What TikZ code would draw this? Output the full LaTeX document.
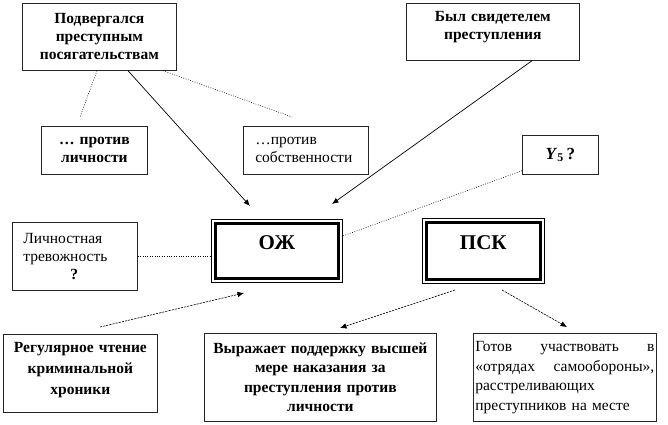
\documentclass[tikz,border=0pt]{standalone}
\usepackage{fontspec}
\setmainfont{Liberation Serif}
\usetikzlibrary{arrows.meta}
\begin{document}
\begin{tikzpicture}[x=1pt,y=-1pt,
  box/.style={draw=black!85, line width=0.7pt, inner sep=0pt, anchor=north west,
    font=\fontsize{15.5}{18}\selectfont},
  boldbox/.style={box, font=\fontsize{15.5}{18}\selectfont\bfseries, align=center},
  bigbox/.style={draw, line width=0.7pt, inner sep=0pt, anchor=north west,
    font=\fontsize{21}{24}\selectfont\bfseries},
  dotl/.style={line width=0.6pt, dash pattern=on 0.8pt off 1.6pt},
  dashl/.style={line width=0.6pt, dash pattern=on 2.2pt off 1pt},
  tip/.style={-{Latex[length=6.5pt,width=5.5pt]}},
  solidl/.style={line width=0.7pt}
]
\useasboundingbox (0,0) rectangle (668,424);

% top boxes
\node[boldbox, minimum width=154pt, minimum height=67pt, text width=150pt] (pod) at (22,3)
  {Подвергался\\преступным\\посягательствам};
\node[boldbox, minimum width=173pt, minimum height=57pt, text width=165pt] (svid) at (406,3)
  {\raisebox{5pt}[\height][\depth]{\begin{tabular}{@{}c@{}}Был свидетелем\\[0pt]преступления\end{tabular}}};
\node[boldbox, minimum width=106pt, minimum height=48pt, text width=100pt] (lich) at (41,126)
  {… против\\личности};
\node[box, minimum width=125pt, minimum height=48pt, text width=101pt, align=left] (sobst) at (243,126)
  {…против\\собственности};
\node[boldbox, minimum width=76pt, minimum height=39pt, text width=70pt,
  font=\fontsize{17}{18}\selectfont\bfseries] (yfive) at (522,135)
  {\textit{Y}\textsubscript{5}\,?};

% middle
\node[box, minimum width=125pt, minimum height=68pt, text width=103pt, align=left] (trev) at (12,222)
  {Личностная\\тревожность\\\hspace*{47pt}\textbf{?}};
\node[bigbox, minimum width=131pt, minimum height=63pt] (ozh) at (211,219)
  {\raisebox{8pt}[\height][\depth]{ОЖ}};
\node[bigbox, minimum width=122pt, minimum height=65pt] (psk) at (422,218)
  {\raisebox{8pt}[\height][\depth]{ПСК}};
\draw[line width=3pt] ([shift={(4pt,-4pt)}]ozh.north west) rectangle ([shift={(-4pt,4pt)}]ozh.south east);
\draw[line width=3pt] ([shift={(4pt,-4pt)}]psk.north west) rectangle ([shift={(-4pt,4pt)}]psk.south east);

% bottom boxes
\node[boldbox, minimum width=154pt, minimum height=78pt, text width=148pt,
  font=\fontsize{15.5}{21}\selectfont\bfseries] (reg) at (3,334)
  {\raisebox{3pt}[\height][\depth]{Регулярное чтение}\\\raisebox{3pt}[\height][\depth]{криминальной}\\\raisebox{3pt}[\height][\depth]{хроники}};
\node[boldbox, minimum width=232pt, minimum height=88pt, text width=225pt,
  font=\fontsize{15.5}{19.5}\selectfont\bfseries] (vyr) at (204,333)
  {Выражает поддержку высшей\\мере наказания за\\преступления против\\личности};
\node[box, minimum width=183pt, minimum height=88pt, text width=179pt, align=left,
  font=\fontsize{15.5}{19.5}\selectfont] (gotov) at (473,333)
  {Готов\hfill участвовать\hfill в\\«отрядах\hfill самообороны»,\\расстреливающих\\преступников на месте};

% free ends
\coordinate (e1) at (80,117);
\coordinate (e2) at (292,117);
\coordinate (e3) at (250,206);
\coordinate (e4) at (332,204);
\coordinate (s5) at (100,327);
\coordinate (e5) at (244,293);
\coordinate (e6) at (340,328);
\coordinate (e7) at (567,327);
\coordinate (s6) at (455,290);
\coordinate (s7) at (502,290);

% connectors
\draw[dotl] ([xshift=75pt]pod.south west) -- (e1);
\draw[dotl] ([xshift=141pt]pod.south west) -- (e2);
\draw[solidl, tip] ([xshift=106pt]pod.south west) -- (e3);
\draw[solidl, tip] ([xshift=126pt]svid.south west) -- (e4);
\draw[dotl] ([yshift=4pt]yfive.south west) -- ([yshift=-17pt]ozh.north east);
\draw[dotl] (trev.east) -- (trev.east -| ozh.west);
\draw[dashl, tip] (s5) -- (e5);
\draw[dashl, tip] (s6) -- (e6);
\draw[dashl, tip] (s7) -- (e7);
\end{tikzpicture}
\end{document}
